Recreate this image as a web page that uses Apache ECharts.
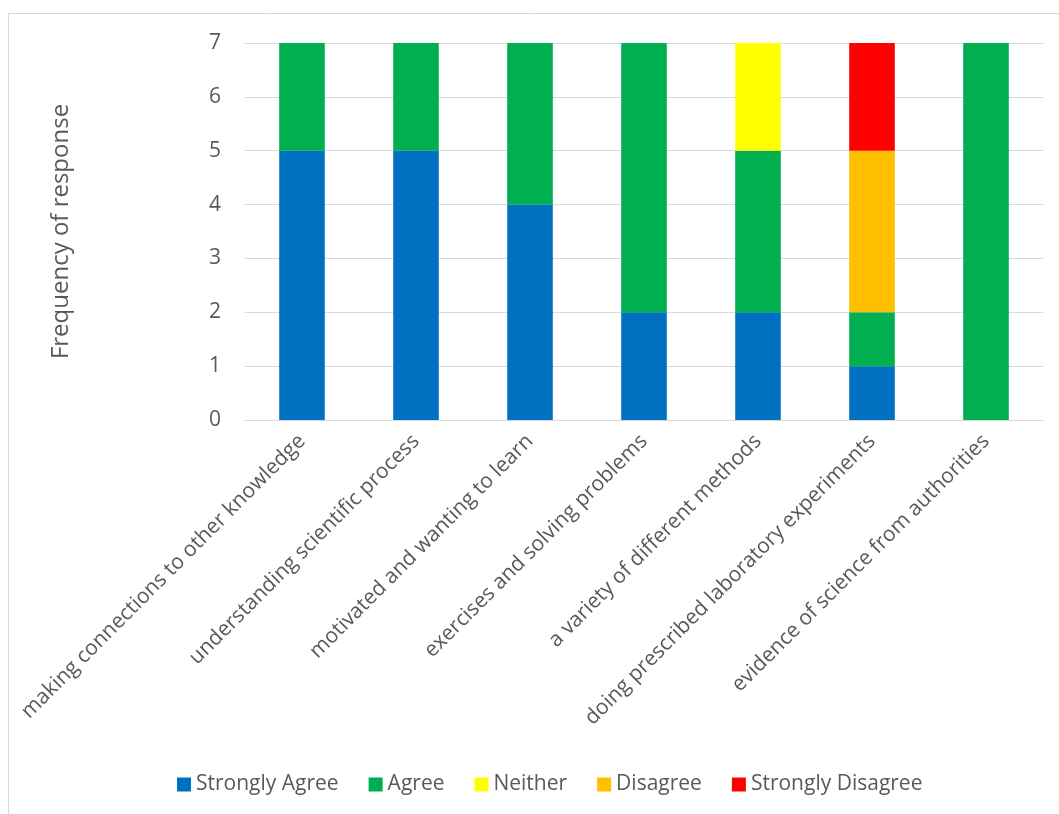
<!DOCTYPE html>
<html><head><meta charset="utf-8">
<script src="https://cdn.jsdelivr.net/npm/echarts@6/dist/echarts.min.js"></script>
<style>html,body{margin:0;padding:0;background:#fff}#c{width:1059px;height:814px}</style>
</head><body><div id="c"></div>
<script>
const categories = ["making connections to other knowledge","understanding scientific process","motivated and wanting to learn","exercises and solving problems","a variety of different methods","doing prescribed laboratory experiments","evidence of science from authorities"];
const seriesNames = ["Strongly Agree","Agree","Neither","Disagree","Strongly Disagree"];
const colors = ["#0070C0","#00B050","#FFFF00","#FFC000","#FF0000"];
const stronglyAgree = [5,5,4,2,2,1,0];
const agree = [2,2,3,5,3,1,7];
const neither = [0,0,0,0,2,0,0];
const disagree = [0,0,0,0,0,3,0];
const stronglyDisagree = [0,0,0,0,0,2,0];
const values = [stronglyAgree, agree, neither, disagree, stronglyDisagree];
const FONT = "Open Sans";
const chart = echarts.init(document.getElementById('c'));
chart.setOption({
  animation:false,
  textStyle:{fontFamily:FONT},
  graphic:[{type:'rect',shape:{x:8.5,y:13.5,width:1060,height:810},style:{fill:null,stroke:'#d9d9d9',lineWidth:1}}],
  grid:{left:245,right:16,top:43,bottom:394},
  legend:{bottom:14,left:172,itemWidth:14,itemHeight:14,itemGap:30,icon:'rect',
    textStyle:{fontSize:21,color:'#595959',fontFamily:FONT},data:seriesNames},
  xAxis:{type:'category',data:categories,
    axisLine:{lineStyle:{color:'#d9d9d9',width:1}},axisTick:{show:false},
    axisLabel:{rotate:45,interval:0,fontSize:21,color:'#595959',margin:18,fontFamily:FONT}},
  yAxis:{type:'value',min:0,max:7,interval:1,name:'Frequency of response',nameLocation:'middle',nameGap:172,nameRotate:90,
    nameTextStyle:{fontSize:24,color:'#595959',fontFamily:FONT},
    axisLine:{show:false},axisTick:{show:false},
    axisLabel:{fontSize:21,color:'#595959',margin:24,fontFamily:FONT},
    splitLine:{lineStyle:{color:'#d9d9d9',width:1}}},
  series: seriesNames.map((n,i)=>({name:n,type:'bar',stack:'s',barWidth:'40%',
    itemStyle:{color:colors[i]},data:values[i]}))
});
</script></body></html>
